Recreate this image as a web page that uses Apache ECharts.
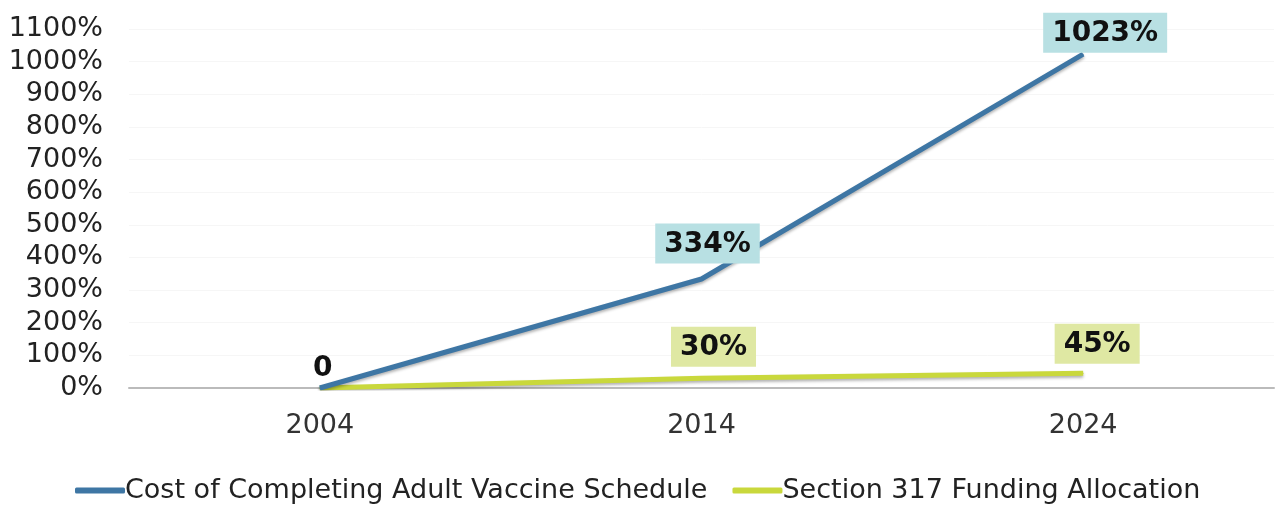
<!DOCTYPE html>
<html><head><meta charset="utf-8">
<script src="https://cdn.jsdelivr.net/npm/echarts@6/dist/echarts.min.js"></script>
<style>html,body{margin:0;padding:0;background:#fff}#c{width:1278px;height:505px}</style>
</head><body><div id="c"></div>
<script>
const categories = ['2004', '2014', '2024'];
const costSeries = [0, 334, 1023];
const fundingSeries = [0, 30, 45];
const costLabels = ['0', '334%', '1023%'];
const fundingLabels = ['', '30%', '45%'];
const seriesNames = ['Cost of Completing Adult Vaccine Schedule', 'Section 317 Funding Allocation'];

const costDx = [3, 6, 22];
const fundDx = [0, 12, 14];

const chart = echarts.init(document.getElementById('c'));
const labelFont = {fontFamily: 'DejaVu Sans', fontWeight: 'bold', fontSize: 28, lineHeight: 28, color: '#111'};
const boxPad = [7, 9, 5, 9];
chart.setOption({
  animation: false,
  grid: {left: 129, right: 4, top: 29, bottom: 117},
  legend: {
    top: 472, left: 70, itemWidth: 50, itemHeight: 6, itemGap: 25,
    icon: 'roundRect',
    textStyle: {fontFamily: 'DejaVu Sans', fontSize: 27, color: '#222', padding: [0,0,0,-5]},
    data: seriesNames
  },
  xAxis: {
    type: 'category', data: categories, boundaryGap: true,
    axisLine: {lineStyle: {color: '#bbb', width: 2}},
    axisTick: {show: false},
    axisLabel: {fontFamily: 'DejaVu Sans', fontSize: 27, color: '#333', margin: 24}
  },
  yAxis: {
    type: 'value', min: 0, max: 1100, interval: 100,
    axisLine: {show: false}, axisTick: {show: false},
    splitLine: {lineStyle: {color: '#f6f6f6'}},
    axisLabel: {fontFamily: 'DejaVu Sans', fontSize: 27, color: '#222', margin: 26,
      formatter: v => v + '%'}
  },
  series: [
    {
      name: seriesNames[0], type: 'line', symbol: 'circle', symbolSize: 1, showSymbol: true,
      lineStyle: {color: '#3e76a4', width: 5, shadowColor: 'rgba(0,0,0,0.3)', shadowBlur: 3, shadowOffsetY: 2},
      itemStyle: {color: '#3e76a4'},
      label: {show: true, position: 'top',
        formatter: p => costLabels[p.dataIndex], ...labelFont},
      labelLayout: p => ({dx: costDx[p.dataIndex], hideOverlap: false}),
      data: costSeries.map((v, i) => {
        const d = {value: v};
        if (i === 0) d.label = {show: true, distance: 5};
        if (i === 1) d.label = {show: true, backgroundColor: '#b8e0e3', padding: boxPad, distance: 15};
        if (i === 2) d.label = {show: true, backgroundColor: '#b8e0e3', padding: boxPad, distance: 1};
        return d;
      }),
      z: 3
    },
    {
      name: seriesNames[1], type: 'line', symbol: 'circle', symbolSize: 1, showSymbol: true,
      lineStyle: {color: '#c9d83c', width: 5, shadowColor: 'rgba(0,0,0,0.3)', shadowBlur: 3, shadowOffsetY: 2},
      itemStyle: {color: '#c9d83c'},
      label: {show: true, position: 'top',
        formatter: p => fundingLabels[p.dataIndex], ...labelFont},
      labelLayout: p => ({dx: fundDx[p.dataIndex], hideOverlap: false}),
      data: fundingSeries.map((v, i) => {
        const d = {value: v};
        if (i === 0) d.label = {show: false};
        if (i === 1) d.label = {show: true, backgroundColor: '#dfe8a3', padding: boxPad, distance: 11};
        if (i === 2) d.label = {show: true, backgroundColor: '#dfe8a3', padding: boxPad, distance: 9};
        return d;
      }),
      z: 2
    }
  ]
});
</script></body></html>
